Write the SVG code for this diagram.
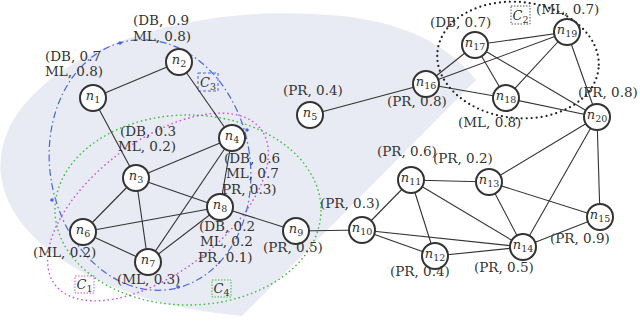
<svg xmlns="http://www.w3.org/2000/svg" width="640" height="336" viewBox="0 0 640 336">
<style>
.bg{fill:#e8ebf3;stroke:none}
.node circle{fill:#fff;stroke:#333;stroke-width:2}
.nl{font-family:"DejaVu Serif",serif;font-style:italic;font-size:13px;fill:#333;text-anchor:middle}
.sub{font-style:normal;font-size:9.5px}
.lab{font-family:"DejaVu Serif",serif;font-size:13.5px;fill:#333}
.edges line{stroke:#333;stroke-width:1.1}
.c3{fill:none;stroke:#4a66e0;stroke-width:1.2;stroke-dasharray:7 3 1.5 3}
.c4{fill:none;stroke:#3cbf3c;stroke-width:1.4;stroke-dasharray:1.6 2.8}
.c1{fill:none;stroke:#cc4fe0;stroke-width:1.4;stroke-dasharray:1.6 2.8}
.c2{fill:none;stroke:#222;stroke-width:2.2;stroke-dasharray:0 5;stroke-linecap:round}
.cl{font-family:"DejaVu Serif",serif;font-style:italic;font-size:13px;fill:#333;text-anchor:middle}
</style>
<path class="bg" d="M476 80 L242 316 A285 152 0 1 1 330 15 Q430 22 476 80 Z"/>
<g id="communities">
<ellipse class="c3" cx="150" cy="165" rx="100" ry="126" transform="rotate(-10 150 165)"/>
<circle cx="120" cy="43" r="1.8" fill="#4a66e0"/>
<circle cx="247" cy="130" r="1.8" fill="#4a66e0"/>
<circle cx="52" cy="200" r="1.8" fill="#4a66e0"/>
<circle cx="178" cy="287" r="1.8" fill="#4a66e0"/>
<ellipse class="c4" cx="188" cy="210" rx="133" ry="95"/>
<ellipse class="c1" cx="158" cy="207" rx="129" ry="66" transform="rotate(-37 158 207)"/>
<ellipse class="c2" cx="518" cy="60" rx="81" ry="58" transform="rotate(6 518 60)"/>
</g>
<g id="community-labels">
<rect x="198" y="73" width="20" height="18" fill="none" stroke="#4a66e0" stroke-width="1" stroke-dasharray="3 2"/>
<text class="cl" x="208" y="87">C<tspan class="sub" dy="3">3</tspan></text>
<rect x="75" y="276" width="19" height="17" fill="none" stroke="#cc4fe0" stroke-width="1" stroke-dasharray="1.5 1.5"/>
<text class="cl" x="84.5" y="289">C<tspan class="sub" dy="3">1</tspan></text>
<rect x="212" y="280" width="19" height="17" fill="none" stroke="#3cbf3c" stroke-width="1" stroke-dasharray="1.5 1.5"/>
<text class="cl" x="221.5" y="293">C<tspan class="sub" dy="3">4</tspan></text>
<rect x="511" y="6" width="19" height="18" fill="none" stroke="#555" stroke-width="1" stroke-dasharray="1.5 1.5"/>
<text class="cl" x="520.5" y="20">C<tspan class="sub" dy="3">2</tspan></text>
</g>
<g id="connectors" class="edges">
<line x1="93" y1="98" x2="179" y2="62"/>
<line x1="179" y1="62" x2="232" y2="138"/>
<line x1="93" y1="98" x2="136" y2="178"/>
<line x1="136" y1="178" x2="232" y2="138"/>
<line x1="136" y1="178" x2="83" y2="232"/>
<line x1="136" y1="178" x2="148" y2="262"/>
<line x1="136" y1="178" x2="220" y2="207"/>
<line x1="232" y1="138" x2="220" y2="207"/>
<line x1="232" y1="138" x2="148" y2="262"/>
<line x1="83" y1="232" x2="220" y2="207"/>
<line x1="83" y1="232" x2="148" y2="262"/>
<line x1="148" y1="262" x2="220" y2="207"/>
<line x1="220" y1="207" x2="296" y2="231"/>
<line x1="296" y1="231" x2="362" y2="230"/>
<line x1="310" y1="115" x2="426" y2="84"/>
<line x1="362" y1="230" x2="411" y2="180"/>
<line x1="362" y1="230" x2="435" y2="256"/>
<line x1="362" y1="230" x2="523" y2="247"/>
<line x1="411" y1="180" x2="489" y2="182"/>
<line x1="411" y1="180" x2="435" y2="256"/>
<line x1="411" y1="180" x2="523" y2="247"/>
<line x1="489" y1="182" x2="523" y2="247"/>
<line x1="489" y1="182" x2="600" y2="217"/>
<line x1="489" y1="182" x2="597" y2="117"/>
<line x1="435" y1="256" x2="523" y2="247"/>
<line x1="523" y1="247" x2="600" y2="217"/>
<line x1="523" y1="247" x2="597" y2="117"/>
<line x1="600" y1="217" x2="597" y2="117"/>
<line x1="426" y1="84" x2="475" y2="45"/>
<line x1="426" y1="84" x2="567" y2="32"/>
<line x1="426" y1="84" x2="506" y2="98"/>
<line x1="475" y1="45" x2="567" y2="32"/>
<line x1="475" y1="45" x2="506" y2="98"/>
<line x1="475" y1="45" x2="597" y2="117"/>
<line x1="506" y1="98" x2="567" y2="32"/>
<line x1="506" y1="98" x2="597" y2="117"/>
<line x1="567" y1="32" x2="597" y2="117"/>
</g>
<g id="n1" class="node"><circle cx="93" cy="98" r="13"/><text class="nl" x="93" y="100">n<tspan class="sub" dy="3">1</tspan></text></g>
<g id="n2" class="node"><circle cx="179" cy="62" r="13"/><text class="nl" x="179" y="64">n<tspan class="sub" dy="3">2</tspan></text></g>
<g id="n3" class="node"><circle cx="136" cy="178" r="13"/><text class="nl" x="136" y="180">n<tspan class="sub" dy="3">3</tspan></text></g>
<g id="n4" class="node"><circle cx="232" cy="138" r="13"/><text class="nl" x="232" y="140">n<tspan class="sub" dy="3">4</tspan></text></g>
<g id="n5" class="node"><circle cx="310" cy="115" r="13"/><text class="nl" x="310" y="117">n<tspan class="sub" dy="3">5</tspan></text></g>
<g id="n6" class="node"><circle cx="83" cy="232" r="13"/><text class="nl" x="83" y="234">n<tspan class="sub" dy="3">6</tspan></text></g>
<g id="n7" class="node"><circle cx="148" cy="262" r="13"/><text class="nl" x="148" y="264">n<tspan class="sub" dy="3">7</tspan></text></g>
<g id="n8" class="node"><circle cx="220" cy="207" r="13"/><text class="nl" x="220" y="209">n<tspan class="sub" dy="3">8</tspan></text></g>
<g id="n9" class="node"><circle cx="296" cy="231" r="13"/><text class="nl" x="296" y="233">n<tspan class="sub" dy="3">9</tspan></text></g>
<g id="n10" class="node"><circle cx="362" cy="230" r="13"/><text class="nl" x="362" y="232">n<tspan class="sub" dy="3">10</tspan></text></g>
<g id="n11" class="node"><circle cx="411" cy="180" r="13"/><text class="nl" x="411" y="182">n<tspan class="sub" dy="3">11</tspan></text></g>
<g id="n12" class="node"><circle cx="435" cy="256" r="13"/><text class="nl" x="435" y="258">n<tspan class="sub" dy="3">12</tspan></text></g>
<g id="n13" class="node"><circle cx="489" cy="182" r="13"/><text class="nl" x="489" y="184">n<tspan class="sub" dy="3">13</tspan></text></g>
<g id="n14" class="node"><circle cx="523" cy="247" r="13"/><text class="nl" x="523" y="249">n<tspan class="sub" dy="3">14</tspan></text></g>
<g id="n15" class="node"><circle cx="600" cy="217" r="13"/><text class="nl" x="600" y="219">n<tspan class="sub" dy="3">15</tspan></text></g>
<g id="n16" class="node"><circle cx="426" cy="84" r="13"/><text class="nl" x="426" y="86">n<tspan class="sub" dy="3">16</tspan></text></g>
<g id="n17" class="node"><circle cx="475" cy="45" r="13"/><text class="nl" x="475" y="47">n<tspan class="sub" dy="3">17</tspan></text></g>
<g id="n18" class="node"><circle cx="506" cy="98" r="13"/><text class="nl" x="506" y="100">n<tspan class="sub" dy="3">18</tspan></text></g>
<g id="n19" class="node"><circle cx="567" cy="32" r="13"/><text class="nl" x="567" y="34">n<tspan class="sub" dy="3">19</tspan></text></g>
<g id="n20" class="node"><circle cx="597" cy="117" r="13"/><text class="nl" x="597" y="119">n<tspan class="sub" dy="3">20</tspan></text></g>
<g id="labels" class="lab">
<text x="45" y="61">(DB, 0.7</text><text x="45" y="76">ML, 0.8)</text>
<text x="133" y="25">(DB, 0.9</text><text x="133" y="41">ML, 0.8)</text>
<text x="120" y="136">(DB, 0.3</text><text x="118" y="151">ML, 0.2)</text>
<text x="224" y="163">(DB, 0.6</text><text x="226" y="178">ML, 0.7</text><text x="222" y="194">PR, 0.3)</text>
<text x="199" y="231">(DB, 0.2</text><text x="200" y="246">ML, 0.2</text><text x="198" y="262">PR, 0.1)</text>
<text x="33" y="257">(ML, 0.2)</text>
<text x="117" y="284">(ML, 0.3)</text>
<text x="283" y="95">(PR, 0.4)</text>
<text x="263" y="252">(PR, 0.5)</text>
<text x="320" y="208">(PR, 0.3)</text>
<text x="377" y="156">(PR, 0.6)</text>
<text x="433" y="163">(PR, 0.2)</text>
<text x="390" y="276">(PR, 0.4)</text>
<text x="474" y="272">(PR, 0.5)</text>
<text x="550" y="243">(PR, 0.9)</text>
<text x="387" y="106">(PR, 0.8)</text>
<text x="430" y="27">(DB, 0.7)</text>
<text x="536" y="14">(ML, 0.7)</text>
<text x="458" y="127">(ML, 0.8)</text>
<text x="578" y="97">(PR, 0.8)</text>
</g>
</svg>
